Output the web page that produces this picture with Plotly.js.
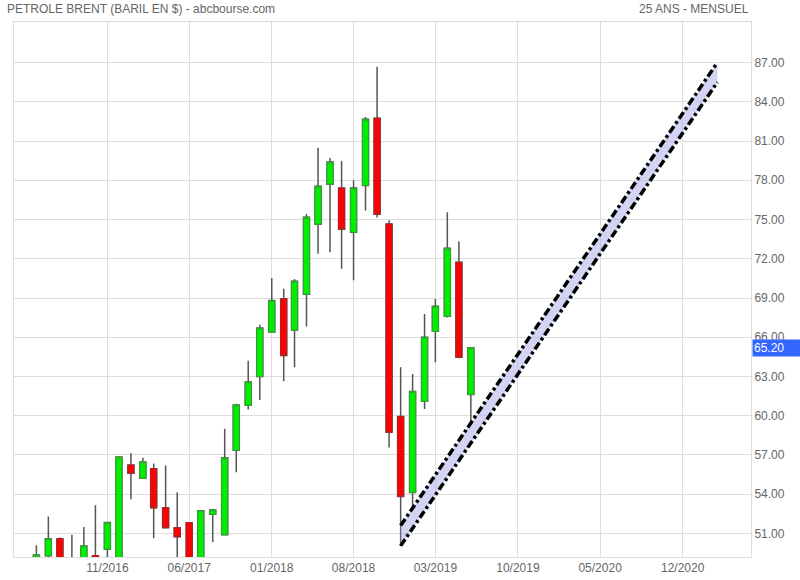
<!DOCTYPE html>
<html>
<head>
<meta charset="utf-8">
<script src="https://cdn.plot.ly/plotly-3.0.1.min.js"></script>
<style>
  html, body { margin: 0; padding: 0; background: #fff; }
  #chart { width: 800px; height: 580px; }
</style>
</head>
<body>
<div id="chart"></div>
<script>
// Monthly candles (Brent, USD per barrel)
const months = ["2016-05-01","2016-06-01","2016-07-01","2016-08-01","2016-09-01","2016-10-01",
  "2016-11-01","2016-12-01","2017-01-01","2017-02-01","2017-03-01","2017-04-01",
  "2017-05-01","2017-06-01","2017-07-01","2017-08-01","2017-09-01","2017-10-01",
  "2017-11-01","2017-12-01","2018-01-01","2018-02-01","2018-03-01","2018-04-01",
  "2018-05-01","2018-06-01","2018-07-01","2018-08-01","2018-09-01","2018-10-01",
  "2018-11-01","2018-12-01","2019-01-01","2019-02-01","2019-03-01","2019-04-01",
  "2019-05-01","2019-06-01"];
const openV  = [47.0, 49.3, 50.6, 42.5, 46.0, 49.3, 49.8, 49.0, 56.23, 55.22, 55.94, 52.96,
  51.44, 51.82, 47.9, 52.47, 50.9, 57.36, 60.8, 63.0, 66.4, 68.95, 66.55, 69.29,
  74.64, 77.7, 77.4, 74.03, 77.6, 82.75, 74.66, 59.95, 54.14, 61.1, 66.45, 67.6,
  71.73, 61.63];
const highV  = [50.1, 52.3, 50.7, 50.9, 51.5, 53.15, 51.9, 56.9, 57.14, 56.78, 56.34, 56.19,
  54.15, 51.85, 52.75, 52.85, 59.0, 60.92, 64.2, 66.95, 70.53, 69.7, 70.46, 75.43,
  80.48, 79.71, 79.48, 78.0, 82.83, 86.68, 74.95, 63.7, 63.19, 67.78, 68.93, 75.56,
  73.34, 65.23];
const lowV   = [44.0, 46.5, 41.5, 41.5, 45.0, 48.0, 43.5, 48.5, 53.62, 55.18, 50.64, 51.4,
  46.6, 44.3, 46.6, 50.34, 50.9, 55.68, 60.47, 61.2, 66.35, 62.63, 63.7, 66.83,
  72.39, 72.5, 71.24, 70.36, 75.68, 75.15, 57.58, 50.05, 53.1, 60.51, 64.08, 67.5,
  64.4, 59.6];
const closeV = [49.35, 50.6, 42.5, 47.0, 50.05, 48.5, 51.84, 56.85, 55.6, 56.47, 52.96, 51.44,
  50.75, 47.9, 52.73, 52.8, 56.78, 60.82, 62.58, 66.7, 68.8, 64.6, 70.28, 75.18,
  77.55, 79.39, 74.26, 77.4, 82.67, 75.4, 58.73, 53.83, 61.86, 66.0, 68.37, 72.8,
  64.47, 65.2];

// Axis ticks
const xTickDates = ["2016-11-01","2017-06-01","2018-01-01","2018-08-01","2019-03-01",
  "2019-10-01","2020-05-01","2020-12-01"];
const xTickLabels = ["11/2016","06/2017","01/2018","08/2018","03/2019","10/2019","05/2020","12/2020"];
const yTickVals = [51, 54, 57, 60, 63, 66, 69, 72, 75, 78, 81, 84, 87];

// Trend channel
const channelDates = ["2018-12-01", "2021-03-01"];
const channelUpper = [51.6, 87.0];
const channelLower = [50.05, 85.5];

const lastPrice = 65.20;
const titleLeft = "PETROLE BRENT (BARIL EN $) - abcbourse.com";
const titleRight = "25 ANS - MENSUEL";

const bodyHigh = openV.map((o, i) => Math.max(o, closeV[i]));
const bodyLow = openV.map((o, i) => Math.min(o, closeV[i]));

const wickTrace = {
  type: 'candlestick', x: months, open: openV, high: highV, low: lowV, close: closeV,
  increasing: { line: { color: '#555555', width: 1.5 }, fillcolor: '#00ee00' },
  decreasing: { line: { color: '#555555', width: 1.5 }, fillcolor: '#ff0000' },
  hoverinfo: 'skip', showlegend: false
};
const bodyTrace = {
  type: 'candlestick', x: months, open: openV, high: bodyHigh, low: bodyLow, close: closeV,
  increasing: { line: { color: '#2fa82f', width: 1 }, fillcolor: '#00ee00' },
  decreasing: { line: { color: '#b22222', width: 1 }, fillcolor: '#ff0000' },
  hoverinfo: 'skip', showlegend: false
};
const fillTrace = {
  type: 'scatter', mode: 'none',
  x: [channelDates[0], channelDates[1], channelDates[1], channelDates[0]],
  y: [channelLower[0], channelLower[1], channelUpper[1], channelUpper[0]],
  fill: 'toself', fillcolor: 'rgba(175,175,235,0.55)',
  hoverinfo: 'skip', showlegend: false
};
const lineStyle = { color: '#000000', width: 3.5, dash: '8px,3px,3px,3px' };
const upperTrace = { type: 'scatter', mode: 'lines', x: channelDates, y: channelUpper,
  line: lineStyle, hoverinfo: 'skip', showlegend: false };
const lowerTrace = { type: 'scatter', mode: 'lines', x: channelDates, y: channelLower,
  line: lineStyle, hoverinfo: 'skip', showlegend: false };

const font = { family: '"Liberation Sans", Arial, sans-serif', size: 12, color: '#666666' };

const layout = {
  width: 800, height: 580,
  margin: { l: 14, r: 49, t: 22, b: 23, pad: 0 },
  paper_bgcolor: '#ffffff', plot_bgcolor: '#ffffff',
  font: font,
  showlegend: false,
  boxgap: 0.2,
  xaxis: {
    type: 'date',
    range: ['2016-03-04', '2021-05-27'],
    tickmode: 'array', tickvals: xTickDates, ticktext: xTickLabels,
    showgrid: true, gridcolor: '#dddddd', gridwidth: 1,
    showline: true, linecolor: '#dddddd', mirror: true,
    zeroline: false, ticks: '',
    rangeslider: { visible: false },
    fixedrange: true,
    tickfont: font
  },
  yaxis: {
    side: 'right',
    range: [49.2, 90.1],
    tickmode: 'array', tickvals: yTickVals,
    ticktext: yTickVals.map(v => v.toFixed(2)),
    showgrid: true, gridcolor: '#dddddd', gridwidth: 1,
    showline: true, linecolor: '#dddddd', mirror: true,
    zeroline: false, ticks: '',
    fixedrange: true,
    tickfont: font
  },
  annotations: [
    { xref: 'paper', yref: 'paper', x: -0.0122, y: 1.0243, xanchor: 'left', yanchor: 'middle',
      text: titleLeft, showarrow: false, font: font },
    { xref: 'paper', yref: 'paper', x: 1, y: 1.0243, xanchor: 'right', yanchor: 'middle',
      text: titleRight, showarrow: false, font: font },
    { xref: 'paper', yref: 'y', x: 1, y: lastPrice, xanchor: 'left', yanchor: 'middle',
      xshift: 1, text: lastPrice.toFixed(2), showarrow: false,
      bgcolor: '#3366ff', width: 46, align: 'left', borderpad: 1,
      font: { family: '"Liberation Sans", Arial, sans-serif', size: 12, color: '#ffffff' } }
  ]
};

Plotly.newPlot('chart', [wickTrace, bodyTrace, fillTrace, upperTrace, lowerTrace], layout,
  { displayModeBar: false, staticPlot: true });
</script>
</body>
</html>
